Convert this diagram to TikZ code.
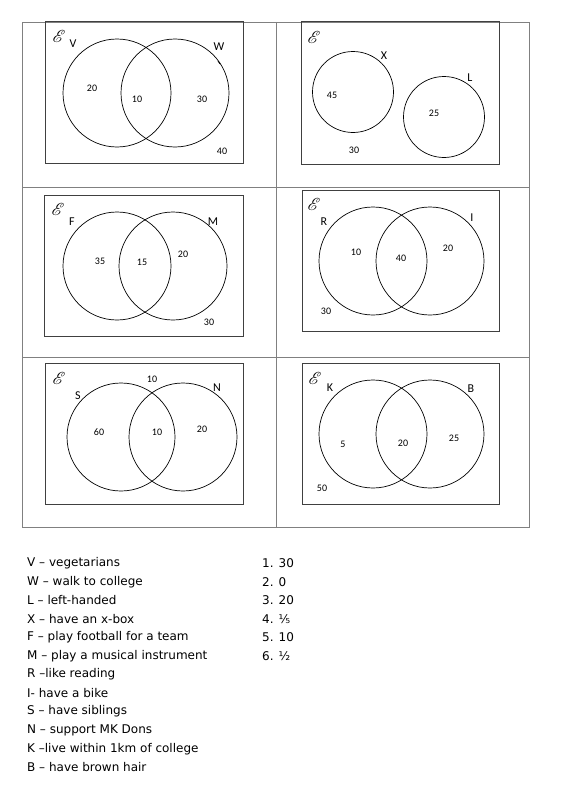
\documentclass[tikz,border=0pt]{standalone}
\usepackage{fontspec}
\setmainfont{Carlito}
\newfontfamily\keyfont{DejaVu Sans}
\usepackage{mathrsfs}
\usepackage{bm}
\usetikzlibrary{positioning}

\tikzset{
  tabline/.style={draw=black!50,line width=0.9pt},
  ubox/.style={draw=black!75,line width=1pt},
  setc/.style={draw=black,line width=0.7pt},
  lab/.style={font=\fontsize{12}{12}\selectfont,inner sep=0pt},
  num/.style={font=\fontsize{10}{10}\selectfont,inner sep=0pt},
  uni/.style={font=\fontsize{19}{19}\selectfont,inner sep=0pt},
  keyline/.style={anchor=west,font=\keyfont\fontsize{12}{12}\selectfont,inner sep=0pt},
}

\begin{document}
\begin{tikzpicture}[x=1pt,y=-1pt]
  \useasboundingbox[fill=white] (0,0) rectangle (566,800);
  % table
  \draw[tabline] (22,22) rectangle (529,527);
  \draw[tabline] (276,22)--(276,527);
  \draw[tabline] (22,187)--(529,187);
  \draw[tabline] (22,357)--(529,357);

  % V and W
  \draw[ubox] (45,22) rectangle (243,163);
  \draw[setc] (117,93) circle[radius=54];
  \draw[setc] (175,93) circle[radius=54];
  \draw[setc] (218,61)--(220,64);
  \node[uni] (u1) at (59,36) {$\bm{\mathscr{E}}$};
  \node[lab] (V) at (73,44) {V};
  \node[lab] (W) at (219,47) {W};
  \node[num] (v1) at (92,88) {20};
  \node[num] (v2) at (137,99) {10};
  \node[num] (v3) at (202,99) {30};
  \node[num] (v4) at (222,151) {40};

  % X and L
  \draw[ubox] (301,22) rectangle (499,164);
  \draw[setc] (353,92) circle[radius=40.5];
  \draw[setc] (444,117) circle[radius=40.5];
  \node[uni] (u2) at (314,37) {$\bm{\mathscr{E}}$};
  \node[lab] (X) at (384,56) {X};
  \node[lab] (L) at (470,78) {L};
  \node[num] (x1) at (332,95) {45};
  \node[num] (x2) at (434,113) {25};
  \node[num] (x3) at (354,150) {30};

  % F and M
  \draw[ubox] (44,195) rectangle (243,336);
  \draw[setc] (117,266) circle[radius=54];
  \draw[setc] (173,266) circle[radius=54];
  \node[uni] (u3) at (58,209) {$\bm{\mathscr{E}}$};
  \node[lab] (F) at (72,222) {F};
  \node[lab] (M) at (213,222) {M};
  \node[num] (f1) at (100,261) {35};
  \node[num] (f2) at (142,262) {15};
  \node[num] (f3) at (183,254) {20};
  \node[num] (f4) at (209,322) {30};

  % R and I
  \draw[ubox] (302,190) rectangle (499,331);
  \draw[setc] (373,261) circle[radius=54];
  \draw[setc] (430,261) circle[radius=54];
  \node[uni] (u4) at (314,204) {$\bm{\mathscr{E}}$};
  \node[lab] (R) at (324,222) {R};
  \node[lab] (I) at (472,218) {I};
  \node[num] (r1) at (356,252) {10};
  \node[num] (r2) at (401,258) {40};
  \node[num] (r3) at (448,248) {20};
  \node[num] (r4) at (326,311) {30};

  % S and N
  \draw[ubox] (45,363) rectangle (243,504);
  \draw[setc] (121,437) circle[radius=54];
  \draw[setc] (183,437) circle[radius=54];
  \node[uni] (u5) at (59,378) {$\bm{\mathscr{E}}$};
  \node[lab] (S) at (78,396) {S};
  \node[lab] (N) at (217,388) {N};
  \node[num] (s0) at (152,379) {10};
  \node[num] (s1) at (99,432) {60};
  \node[num] (s2) at (157,432) {10};
  \node[num] (s3) at (202,429) {20};

  % K and B
  \draw[ubox] (302,363) rectangle (499,504);
  \draw[setc] (373,434) circle[radius=54];
  \draw[setc] (430,434) circle[radius=54];
  \node[uni] (u6) at (315,378) {$\bm{\mathscr{E}}$};
  \node[lab] (K) at (330,388) {K};
  \node[lab] (B) at (471,389) {B};
  \node[num] (k1) at (343,444) {5};
  \node[num] (k2) at (403,443) {20};
  \node[num] (k3) at (454,438) {25};
  \node[num] (k4) at (322,488) {50};

  % key
  \node[keyline] (k-V) at (27,563) {V – vegetarians};
  \node[keyline] (k-W) at (27,582) {W – walk to college};
  \node[keyline] (k-L) at (27,600) {L – left-handed};
  \node[keyline] (k-X) at (27,619) {X – have an x-box};
  \node[keyline] (k-F) at (27,637) {F – play football for a team};
  \node[keyline] (k-M) at (27,656) {M – play a musical instrument};
  \node[keyline] (k-R) at (27,674) {R –like reading};
  \node[keyline] (k-I) at (27,693) {I- have a bike};
  \node[keyline] (k-S) at (27,711) {S – have siblings};
  \node[keyline] (k-N) at (27,730) {N – support MK Dons};
  \node[keyline] (k-K) at (27,749) {K –live within 1km of college};
  \node[keyline] (k-B) at (27,767) {B – have brown hair};

  % answers
  \node[keyline] (a1) at (262,563) {1. 30};
  \node[keyline] (a2) at (262,582) {2. 0};
  \node[keyline] (a3) at (262,600) {3. 20};
  \node[keyline] (a4) at (262,619) {4. ⅕};
  \node[keyline] (a5) at (262,637) {5. 10};
  \node[keyline] (a6) at (262,656) {6. ½};
\end{tikzpicture}
\end{document}
